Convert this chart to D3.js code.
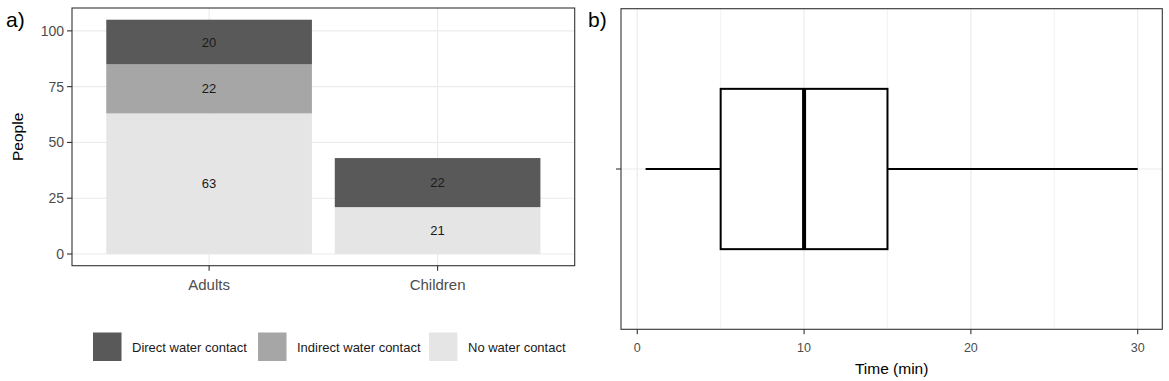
<!DOCTYPE html>
<html>
<head>
<meta charset="utf-8">
<script src="https://cdn.jsdelivr.net/npm/d3@7"></script>
<style>
  body { margin: 0; background: #fff; }
  text { font-family: "Liberation Sans", Arial, sans-serif; }
</style>
</head>
<body>
<div id="chart"></div>
<script>
const W = 1169, H = 381;

// panel a data
const groups = ['Adults', 'Children'];
const contactTypes = ['Direct water contact', 'Indirect water contact', 'No water contact'];
const directCounts = [20, 22];
const indirectCounts = [22, 0];
const noContactCounts = [63, 21];
const fillColors = ['#595959', '#a6a6a6', '#e5e5e5'];
const yTicks = [0, 25, 50, 75, 100];

// panel b data (box plot summary)
const timeStats = {min: 0.5, q1: 5, median: 10, q3: 15, max: 30};
const xTicks = [0, 10, 20, 30];
const xMinorTicks = [5, 15, 25];

const svg = d3.select('#chart')
  .append('svg')
  .attr('width', W)
  .attr('height', H);

// ---------- panel a ----------
const a = {left: 72, right: 574.7, top: 8, bottom: 265.7};

// build stacked rows
const rows = groups.map((g, i) => ({
  group: g,
  'Direct water contact': directCounts[i],
  'Indirect water contact': indirectCounts[i],
  'No water contact': noContactCounts[i]
}));
// no contact sits at the bottom of each bar
const stack = d3.stack().keys(contactTypes.slice().reverse());
const series = stack(rows);
const total = d3.max(rows, d => contactTypes.reduce((s, k) => s + d[k], 0));

const yA = d3.scaleLinear()
  .domain([-0.05 * total, total * 1.05])
  .range([a.bottom, a.top]);
// discrete x like ggplot: positions 1 and 2, expanded by 0.6 each side
const xA = d3.scaleLinear()
  .domain([0.4, groups.length + 0.6])
  .range([a.left, a.right]);
const xCenter = g => xA(groups.indexOf(g) + 1);
const barW = xA(1.9) - xA(1);

const ga = svg.append('g');

// grid
ga.selectAll('.hgrid').data(yTicks).join('line')
  .attr('x1', a.left).attr('x2', a.right)
  .attr('y1', d => yA(d)).attr('y2', d => yA(d))
  .attr('stroke', '#ebebeb').attr('stroke-width', 1.1);
ga.selectAll('.vgrid').data(groups).join('line')
  .attr('x1', d => xCenter(d)).attr('x2', d => xCenter(d))
  .attr('y1', a.top).attr('y2', a.bottom)
  .attr('stroke', '#ebebeb').attr('stroke-width', 1.1);

// bars
const colorOf = d3.scaleOrdinal().domain(contactTypes).range(fillColors);
series.forEach(s => {
  const segs = s.filter(d => d[1] - d[0] > 0);
  ga.append('g').selectAll('rect')
    .data(segs)
    .join('rect')
    .attr('x', d => xCenter(d.data.group) - barW / 2)
    .attr('width', barW)
    .attr('y', d => yA(d[1]))
    .attr('height', d => yA(d[0]) - yA(d[1]))
    .attr('fill', colorOf(s.key));
  ga.append('g').selectAll('text')
    .data(segs)
    .join('text')
    .attr('x', d => xCenter(d.data.group))
    .attr('y', d => yA((d[0] + d[1]) / 2))
    .attr('dy', '0.35em')
    .attr('text-anchor', 'middle')
    .attr('font-size', 13)
    .attr('fill', '#1a1a1a')
    .text(d => d[1] - d[0]);
});

// border
ga.append('rect')
  .attr('x', a.left).attr('y', a.top)
  .attr('width', a.right - a.left).attr('height', a.bottom - a.top)
  .attr('fill', 'none').attr('stroke', '#333').attr('stroke-width', 1.1);

// y axis
const yAxisA = ga.append('g');
yAxisA.selectAll('line').data(yTicks).join('line')
  .attr('x1', a.left - 5).attr('x2', a.left)
  .attr('y1', d => yA(d)).attr('y2', d => yA(d))
  .attr('stroke', '#333').attr('stroke-width', 1.1);
yAxisA.selectAll('text').data(yTicks).join('text')
  .attr('x', a.left - 8).attr('y', d => yA(d))
  .attr('dy', '0.35em').attr('text-anchor', 'end')
  .attr('font-size', 14).attr('fill', '#4d4d4d')
  .text(d => d);

// x axis
const xAxisA = ga.append('g');
xAxisA.selectAll('line').data(groups).join('line')
  .attr('x1', d => xCenter(d)).attr('x2', d => xCenter(d))
  .attr('y1', a.bottom).attr('y2', a.bottom + 5)
  .attr('stroke', '#333').attr('stroke-width', 1.1);
xAxisA.selectAll('text').data(groups).join('text')
  .attr('x', d => xCenter(d)).attr('y', 290)
  .attr('text-anchor', 'middle')
  .attr('font-size', 15).attr('fill', '#4d4d4d')
  .text(d => d);

ga.append('text')
  .attr('transform', `translate(23, ${(a.top + a.bottom) / 2}) rotate(-90)`)
  .attr('text-anchor', 'middle')
  .attr('font-size', 15.5).attr('fill', '#000')
  .text('People');

ga.append('text')
  .attr('x', 6).attr('y', 27)
  .attr('font-size', 21).attr('fill', '#000')
  .text('a)');

// legend
const legendX = [93, 258, 429];
const leg = ga.append('g');
contactTypes.forEach((k, i) => {
  leg.append('rect')
    .attr('x', legendX[i]).attr('y', 332.5)
    .attr('width', 28.5).attr('height', 28.5)
    .attr('fill', colorOf(k));
  leg.append('text')
    .attr('x', legendX[i] + 39).attr('y', 347)
    .attr('dy', '0.35em')
    .attr('font-size', 13).attr('fill', '#1a1a1a')
    .text(k);
});

// ---------- panel b ----------
const b = {left: 621, right: 1162.3, top: 8.7, bottom: 329.3};
const span = timeStats.max - timeStats.min;
const xB = d3.scaleLinear()
  .domain([timeStats.min - 0.05 * span, timeStats.max + 0.05 * span])
  .range([b.left, b.right]);
const yB = d3.scaleLinear().domain([0.4, 1.6]).range([b.bottom, b.top]);

const gb = svg.append('g');

gb.selectAll('.minor').data(xMinorTicks).join('line')
  .attr('x1', d => xB(d)).attr('x2', d => xB(d))
  .attr('y1', b.top).attr('y2', b.bottom)
  .attr('stroke', '#f0f0f0').attr('stroke-width', 0.8);
gb.selectAll('.major').data(xTicks).join('line')
  .attr('x1', d => xB(d)).attr('x2', d => xB(d))
  .attr('y1', b.top).attr('y2', b.bottom)
  .attr('stroke', '#ebebeb').attr('stroke-width', 1.1);
gb.append('line')
  .attr('x1', b.left).attr('x2', b.right)
  .attr('y1', yB(1)).attr('y2', yB(1))
  .attr('stroke', '#ebebeb').attr('stroke-width', 1.1);

// whiskers
gb.append('line')
  .attr('x1', xB(timeStats.min)).attr('x2', xB(timeStats.q1))
  .attr('y1', yB(1)).attr('y2', yB(1))
  .attr('stroke', '#000').attr('stroke-width', 2);
gb.append('line')
  .attr('x1', xB(timeStats.q3)).attr('x2', xB(timeStats.max))
  .attr('y1', yB(1)).attr('y2', yB(1))
  .attr('stroke', '#000').attr('stroke-width', 2);

// box
gb.append('rect')
  .attr('x', xB(timeStats.q1)).attr('width', xB(timeStats.q3) - xB(timeStats.q1))
  .attr('y', yB(1.3)).attr('height', yB(0.7) - yB(1.3))
  .attr('fill', '#fff').attr('stroke', '#000').attr('stroke-width', 2);
gb.append('line')
  .attr('x1', xB(timeStats.median)).attr('x2', xB(timeStats.median))
  .attr('y1', yB(1.3)).attr('y2', yB(0.7))
  .attr('stroke', '#000').attr('stroke-width', 4);

gb.append('rect')
  .attr('x', b.left).attr('y', b.top)
  .attr('width', b.right - b.left).attr('height', b.bottom - b.top)
  .attr('fill', 'none').attr('stroke', '#333').attr('stroke-width', 1.1);

// y tick (no label)
gb.append('line')
  .attr('x1', b.left - 5).attr('x2', b.left)
  .attr('y1', yB(1)).attr('y2', yB(1))
  .attr('stroke', '#333').attr('stroke-width', 1.1);

// x axis
gb.selectAll('.xt').data(xTicks).join('line')
  .attr('x1', d => xB(d)).attr('x2', d => xB(d))
  .attr('y1', b.bottom).attr('y2', b.bottom + 5)
  .attr('stroke', '#333').attr('stroke-width', 1.1);
gb.selectAll('.xl').data(xTicks).join('text')
  .attr('x', d => xB(d)).attr('y', 352)
  .attr('text-anchor', 'middle')
  .attr('font-size', 12.5).attr('fill', '#4d4d4d')
  .text(d => d);

gb.append('text')
  .attr('x', (b.left + b.right) / 2).attr('y', 374)
  .attr('text-anchor', 'middle')
  .attr('font-size', 15.5).attr('fill', '#000')
  .text('Time (min)');

gb.append('text')
  .attr('x', 588).attr('y', 27)
  .attr('font-size', 21).attr('fill', '#000')
  .text('b)');
</script>
</body>
</html>
